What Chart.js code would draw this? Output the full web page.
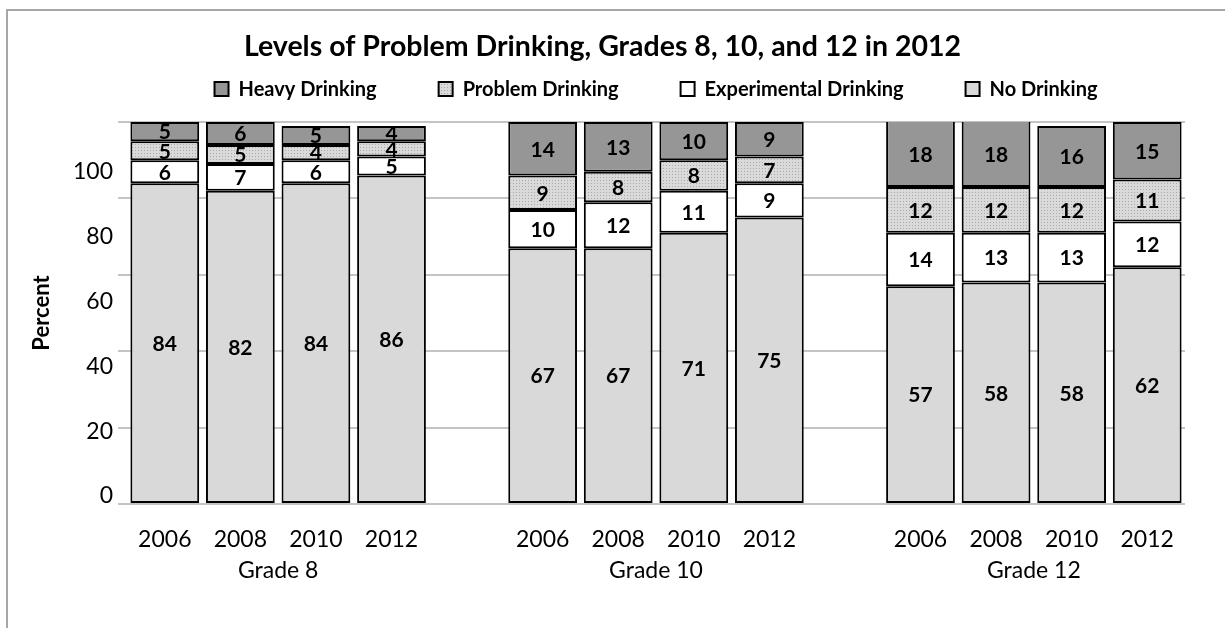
<!DOCTYPE html>
<html>
<head>
<meta charset="utf-8">
<script src="https://cdn.jsdelivr.net/npm/chart.js@4/dist/chart.umd.min.js"></script>
<style>
html,body{margin:0;padding:0;background:#fff;}
#wrap{position:relative;width:1225px;height:628px;}
</style>
</head>
<body>
<div id="wrap"><canvas id="c"></canvas></div>
<script>
// ---- data ----
const chartTitle = 'Levels of Problem Drinking, Grades 8, 10, and 12 in 2012';
const yearLabels = ['2006','2008','2010','2012','','2006','2008','2010','2012','','2006','2008','2010','2012'];
const gradeLabels = ['Grade 8','Grade 10','Grade 12'];
const gradeCenters = [2, 7, 12];
const noDrinking   = [84, 82, 84, 86, null, 67, 67, 71, 75, null, 57, 58, 58, 62];
const experimental = [6, 7, 6, 5, null, 10, 12, 11, 9, null, 14, 13, 13, 12];
const problem      = [5, 5, 4, 4, null, 9, 8, 8, 7, null, 12, 12, 12, 11];
const heavy        = [5, 6, 5, 4, null, 14, 13, 10, 9, null, 18, 18, 16, 15];
const yTickValues  = [0, 20, 40, 60, 80, 100];

Chart.defaults.font.family = 'Lato, "Open Sans", sans-serif';
Chart.defaults.color = '#000';

const canvas = document.getElementById('c');
const ctx0 = canvas.getContext('2d');

function dotPattern() {
  const c = document.createElement('canvas');
  c.width = 3; c.height = 3;
  const g = c.getContext('2d');
  g.fillStyle = '#dadada';
  g.fillRect(0, 0, 3, 3);
  g.fillStyle = '#a9a9a9';
  g.fillRect(0, 0, 1, 1);
  return ctx0.createPattern(c, 'repeat');
}

const frame = {
  id: 'frame',
  beforeDraw(chart) {
    const ctx = chart.ctx;
    ctx.save();
    ctx.strokeStyle = '#a6a6a6';
    ctx.lineWidth = 2;
    ctx.beginPath();
    ctx.moveTo(7, chart.height);
    ctx.lineTo(7, 10);
    ctx.lineTo(chart.width, 10);
    ctx.stroke();
    ctx.restore();
  }
};

const valueLabels = {
  id: 'valueLabels',
  afterDatasetsDraw(chart) {
    const {ctx, chartArea} = chart;
    ctx.save();
    ctx.font = 'bold 21px Lato, "Open Sans", sans-serif';
    ctx.fillStyle = '#000';
    ctx.textAlign = 'center';
    ctx.textBaseline = 'middle';
    chart.data.datasets.forEach((ds, i) => {
      const meta = chart.getDatasetMeta(i);
      meta.data.forEach((bar, j) => {
        const v = ds.data[j];
        if (v === null || v === undefined) return;
        const top = Math.max(Math.min(bar.y, bar.base), chartArea.top);
        const bot = Math.min(Math.max(bar.y, bar.base), chartArea.bottom);
        ctx.fillText(String(v), bar.x, (top + bot) / 2 + 1);
      });
    });
    ctx.restore();
  }
};

const common = {
  borderColor: '#000',
  borderWidth: 2,
  borderSkipped: false,
  barPercentage: 0.91,
  categoryPercentage: 1.0,
  xAxisID: 'x',
  yAxisID: 'y',
  stack: 's'
};

new Chart(canvas, {
  type: 'bar',
  data: {
    labels: yearLabels,
    datasets: [
      Object.assign({label: 'No Drinking', data: noDrinking, backgroundColor: '#d9d9d9'}, common),
      Object.assign({label: 'Experimental Drinking', data: experimental, backgroundColor: '#ffffff'}, common),
      Object.assign({label: 'Problem Drinking', data: problem, backgroundColor: dotPattern()}, common),
      Object.assign({label: 'Heavy Drinking', data: heavy, backgroundColor: '#969696'}, common)
    ]
  },
  options: {
    responsive: true,
    maintainAspectRatio: false,
    animation: false,
    devicePixelRatio: 1,
    layout: {padding: {left: 20, right: 40, top: 0, bottom: 38}},
    plugins: {
      tooltip: {enabled: false},
      title: {
        display: true,
        text: chartTitle,
        font: {size: 28.5, weight: 'bold'},
        color: '#000',
        padding: {top: 29.5, bottom: -46.6}
      },
      legend: {
        position: 'top',
        reverse: true,
        fullSize: false,
        labels: {
          boxWidth: 14,
          boxHeight: 14,
          padding: 62,
          color: '#000',
          font: {size: 20, weight: 'bold'}
        }
      }
    },
    scales: {
      x: {
        type: 'category',
        stacked: true,
        position: 'bottom',
        weight: 0,
        grid: {display: false, drawTicks: false},
        border: {display: false},
        ticks: {autoSkip: false, maxRotation: 0, padding: 22, font: {size: 23}, color: '#000'},
        afterFit: s => { s.height = 50; }
      },
      grade: {
        type: 'linear',
        axis: 'x',
        position: 'bottom',
        weight: 1,
        offset: false,
        min: 0,
        max: 14,
        grid: {display: false, drawTicks: false, offset: false},
        border: {display: false},
        afterBuildTicks: s => { s.ticks = gradeCenters.map(v => ({value: v})); },
        ticks: {
          autoSkip: false, maxRotation: 0, padding: 3, font: {size: 23}, color: '#000',
          callback: v => gradeLabels[gradeCenters.indexOf(v)]
        },
        afterFit: s => { s.height = 36; }
      },
      topSpacer: {
        type: 'linear',
        axis: 'x',
        position: 'top',
        offset: false,
        min: 0,
        max: 1,
        grid: {display: false, drawTicks: false, offset: false},
        border: {display: false},
        ticks: {display: false},
        afterFit: s => { s.height = 13; }
      },
      y: {
        type: 'linear',
        stacked: true,
        position: 'left',
        weight: 0,
        min: 0,
        max: 100,
        afterBuildTicks: s => { s.ticks = yTickValues.map(v => ({value: v})); },
        grid: {color: '#c4c4c4', lineWidth: 2, drawTicks: true, tickLength: 9},
        border: {display: false},
        ticks: {display: false},
        afterFit: s => { s.width = 9; }
      },
      yl: {
        type: 'linear',
        position: 'left',
        weight: 1,
        min: -2.47,
        max: 115.4,
        afterBuildTicks: s => { s.ticks = yTickValues.map(v => ({value: v})); },
        grid: {display: false, drawTicks: false},
        border: {display: false},
        ticks: {padding: 5, font: {size: 23}, color: '#000'},
        title: {display: true, text: 'Percent', font: {size: 22, weight: 'bold'}, color: '#000', padding: {top: 9, bottom: 0}},
        afterFit: s => { s.width = 98; }
      }
    }
  },
  plugins: [frame, valueLabels]
});
</script>
</body>
</html>
